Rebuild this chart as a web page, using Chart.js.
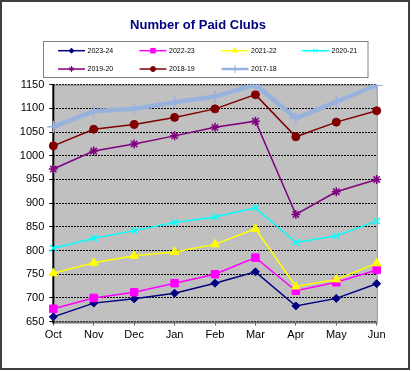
<!DOCTYPE html>
<html>
<head>
<meta charset="utf-8">
<script src="https://cdn.jsdelivr.net/npm/chart.js@4"></script>
<style>
  html, body { margin: 0; padding: 0; background: #fff; }
  #wrap { position: relative; width: 412px; height: 371px; }
</style>
</head>
<body>
<div id="wrap"><canvas id="c" width="412" height="371"></canvas></div>
<script>
const months = ['Oct','Nov','Dec','Jan','Feb','Mar','Apr','May','Jun'];
const seriesNames = ['2023-24','2022-23','2021-22','2020-21','2019-20','2018-19','2017-18'];
const s2023_24 = [660, 689, 698, 710, 731, 755, 683, 699, 730];
const s2022_23 = [677, 700, 712, 731, 750, 785, 715, 733, 759];
const s2021_22 = [752, 774, 789, 797, 813, 846, 724, 739, 773];
const s2020_21 = [805, 826, 842, 859, 871, 890, 817, 831, 862];
const s2019_20 = [972, 1010, 1025, 1042, 1060, 1073, 876, 924, 950];
const s2018_19 = [1021, 1056, 1066, 1081, 1099, 1129, 1040, 1071, 1095];
const s2017_18 = [1061, 1094, 1099, 1113, 1125, 1150, 1079, 1114, 1149];
const yMin = 650, yMax = 1150, yStep = 50;

const styles = [
  {color:'#000080', point:'rectRot',  r:4,   lw:1.5, pbw:1,   lr:2.5},
  {color:'#FF00FF', point:'rect',     r:5.3, lw:1.5, pbw:1,   lr:3.2},
  {color:'#FFFF00', point:'triangle', r:5,   lw:1.5, pbw:1,   lr:3},
  {color:'#00FFFF', point:'crossRot', r:4.5, lw:1.5, pbw:1.5, lr:3},
  {color:'#800080', point:'star',     r:4.5, lw:1.5, pbw:1.5, lr:3},
  {color:'#800000', point:'circle',   r:4,   lw:1.5, pbw:1,   lr:2.5},
  {color:'#98B2DE', point:'cross',    r:6,   lw:4.5, pbw:1.5, lr:4}
];
const values = [s2023_24, s2022_23, s2021_22, s2020_21, s2019_20, s2018_19, s2017_18];

const datasets = values.map((v, i) => ({
  label: seriesNames[i],
  data: v,
  borderColor: styles[i].color,
  backgroundColor: styles[i].color,
  borderWidth: styles[i].lw,
  pointStyle: styles[i].point,
  pointRadius: styles[i].r,
  pointHoverRadius: styles[i].r,
  pointBorderWidth: styles[i].pbw,
  pointBorderColor: styles[i].color,
  pointBackgroundColor: styles[i].color,
  tension: 0,
  order: -i
}));

const deco = {
  id: 'deco',
  beforeDraw(chart) {
    const {ctx, chartArea: a} = chart;
    ctx.save();
    ctx.fillStyle = '#fff';
    ctx.fillRect(0, 0, chart.width, chart.height);
    ctx.fillStyle = '#C0C0C0';
    ctx.fillRect(a.left, a.top, a.right - a.left, a.bottom - a.top);
    ctx.restore();
  },
  beforeDatasetsDraw(chart) {
    const {ctx, chartArea: a} = chart;
    ctx.save();
    ctx.setLineDash([]);
    ctx.strokeStyle = '#808080';
    ctx.lineWidth = 1;
    ctx.beginPath();
    ctx.moveTo(a.left, a.top + 0.5);
    ctx.lineTo(a.right + 0.5, a.top + 0.5);
    ctx.lineTo(a.right + 0.5, a.bottom);
    ctx.stroke();
    ctx.lineWidth = 2;
    ctx.strokeStyle = '#707070';
    ctx.beginPath();
    ctx.moveTo(a.left, a.bottom + 1);
    ctx.lineTo(a.right + 1, a.bottom + 1);
    ctx.stroke();
    ctx.strokeStyle = '#000';
    ctx.beginPath();
    ctx.moveTo(a.left, a.top);
    ctx.lineTo(a.left, a.bottom + 2);
    ctx.stroke();
    ctx.restore();
  },
  afterDraw(chart) {
    const {ctx} = chart;
    ctx.save();
    ctx.fillStyle = '#000080';
    ctx.font = 'bold 13px "Liberation Sans", Arial, sans-serif';
    ctx.textAlign = 'center';
    ctx.textBaseline = 'middle';
    ctx.fillText('Number of Paid Clubs', 198, 25);
    ctx.strokeStyle = '#808080';
    ctx.lineWidth = 1;
    ctx.strokeRect(43.5, 41.5, 324.5, 36);
    const colX = [58, 139.5, 221.5, 302];
    const rowY = [50.7, 69];
    ctx.font = '7px "Liberation Sans", Arial, sans-serif';
    ctx.textAlign = 'left';
    seriesNames.forEach((name, i) => {
      const x = colX[i % 4], y = rowY[Math.floor(i / 4)];
      const st = styles[i];
      ctx.strokeStyle = st.color;
      ctx.fillStyle = st.color;
      ctx.lineWidth = i === 6 ? 2.5 : 1.5;
      ctx.beginPath();
      ctx.moveTo(x, y);
      ctx.lineTo(x + 27, y);
      ctx.stroke();
      ctx.lineWidth = 1;
      Chart.helpers.drawPoint(ctx, {pointStyle: st.point, radius: st.lr, rotation: 0, borderWidth: 1}, x + 13.5, y);
      ctx.fillStyle = '#000';
      ctx.fillText(name, x + 29.5, y + 0.5);
    });
    ctx.strokeStyle = '#404040';
    ctx.lineWidth = 2;
    ctx.strokeRect(1, 1, 408, 368);
    ctx.restore();
  }
};

new Chart(document.getElementById('c'), {
  type: 'line',
  data: { labels: months, datasets },
  options: {
    responsive: false,
    animation: false,
    devicePixelRatio: 1,
    layout: { padding: { top: 84.7, right: 35.3, bottom: 0, left: 0 } },
    plugins: { legend: { display: false }, title: { display: false }, tooltip: { enabled: false } },
    scales: {
      x: {
        offset: false,
        afterFit(s) { s.height = 49.4; },
        grid: { drawOnChartArea: false, tickLength: 4, color: '#606060', lineWidth: 1 },
        border: { display: false },
        ticks: { color: '#000', padding: 3, font: { family: '"Liberation Sans", Arial, sans-serif', size: 11 }, maxRotation: 0, autoSkip: false }
      },
      y: {
        min: yMin, max: yMax,
        afterFit(s) { s.width = 53.3; },
        grid: { color: '#000', lineWidth: 1, tickLength: 4, tickColor: '#000', tickBorderDash: [] },
        border: { display: false, dash: [2, 1] },
        ticks: { stepSize: yStep, color: '#000', padding: 5, callback: (v) => String(v), font: { family: '"Liberation Sans", Arial, sans-serif', size: 11 } }
      }
    }
  },
  plugins: [deco]
});
</script>
</body>
</html>
